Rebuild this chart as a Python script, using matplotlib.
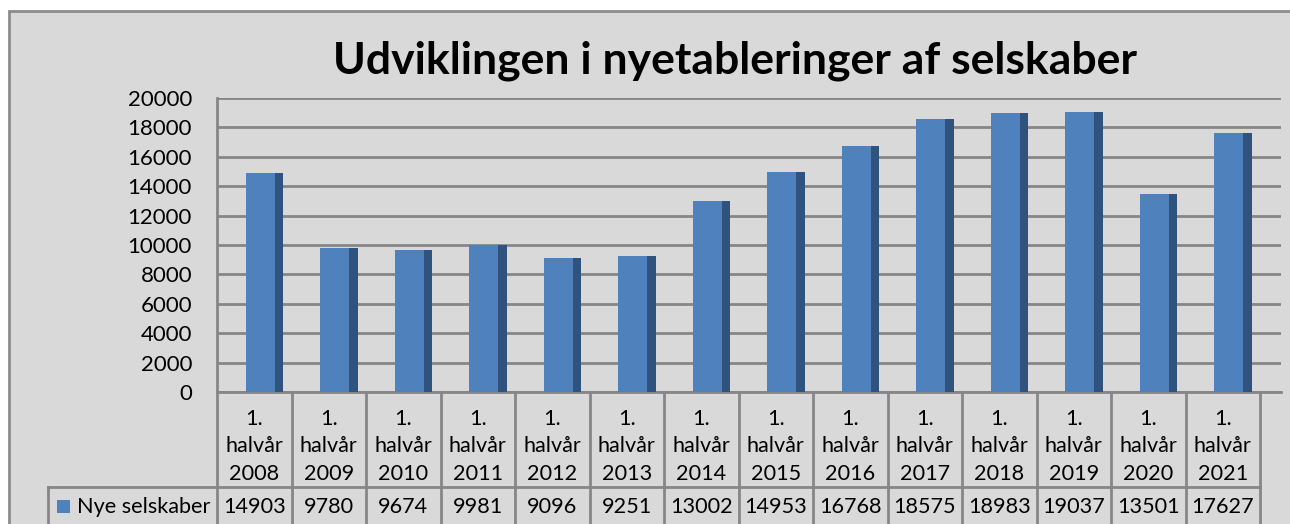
import matplotlib.pyplot as plt
from matplotlib.patches import Rectangle
import numpy as np

years = ['2008', '2009', '2010', '2011', '2012', '2013', '2014',
         '2015', '2016', '2017', '2018', '2019', '2020', '2021']
values = [14903, 9780, 9674, 9981, 9096, 9251, 13002,
          14953, 16768, 18575, 18983, 19037, 13501, 17627]
series_name = 'Nye selskaber'
title = 'Udviklingen i nyetableringer af selskaber'

W, H = 1290, 524
bg = '#d9d9d9'
grid_c = '#868686'
front_c = '#4f81bd'
side_c = '#30527f'

plt.rcParams['font.family'] = ['Lato', 'DejaVu Sans']

fig = plt.figure(figsize=(W / 100, H / 100), dpi=100, facecolor='white')


def box(x0, y0, x1, y1):
    # pixel box (top-left origin) -> figure fraction
    return [x0 / W, 1 - y1 / H, (x1 - x0) / W, (y1 - y0) / H]


# grey chart area with border
fig.patches.append(Rectangle((9 / W, -0.01), 1.0, 1 - 11 / H + 0.01,
                             transform=fig.transFigure, facecolor=bg,
                             edgecolor='#8c8c8c', lw=2, zorder=-10))

cat_w = 74.5
x = np.arange(len(years))
xlim = (-0.5, -0.5 + (1281 - 217) / cat_w)

ax = fig.add_axes(box(217, 98, 1281, 392))
ax.patch.set_visible(False)
ax.set_xlim(xlim)
ax.set_ylim(0, 20000)
ax.set_yticks(range(0, 20001, 2000))
ax.yaxis.grid(True, color=grid_c, lw=2)
ax.set_axisbelow(True)
ax.set_xticks([])
ax.tick_params(axis='y', length=0, pad=18, labelsize=16)
for s in ['top', 'right']:
    ax.spines[s].set_visible(False)
for s in ['left', 'bottom']:
    ax.spines[s].set_color(grid_c)
    ax.spines[s].set_linewidth(2)

ax.bar(x + 0.084, values, width=0.39, color=front_c, zorder=3)
ax.bar(x + 0.333, values, width=0.11, color=side_c, zorder=3)

fig.text(735 / W, 1 - 61 / H, title, ha='center', va='center',
         fontsize=32, fontweight='bold')

# data table below the plot
tax = fig.add_axes(box(217, 392, 1281, 524))
tax.set_xlim(xlim)
tax.set_ylim(524, 392)
tax.axis('off')
line_kw = dict(color=grid_c, lw=2, clip_on=False)
legend_x = -0.5 - (217 - 48) / cat_w
for k in range(len(years) + 1):
    tax.plot([k - 0.5, k - 0.5], [392, 530], **line_kw)
tax.plot([legend_x, len(years) - 0.5], [487, 487], **line_kw)
tax.plot([legend_x, legend_x], [487, 530], **line_kw)

fs = 15.6
for i, (yr, v) in enumerate(zip(years, values)):
    tax.text(i, 419, '1.', ha='center', va='center', fontsize=fs)
    tax.text(i, 446, 'halvår', ha='center', va='center', fontsize=fs)
    tax.text(i, 474, yr, ha='center', va='center', fontsize=fs)
    tax.text(i, 507, str(v), ha='center', va='center', fontsize=fs)

fig.patches.append(Rectangle((57 / W, 1 - 513 / H), 13 / W, 13 / H,
                             transform=fig.transFigure, facecolor=front_c,
                             edgecolor='none', zorder=3))
fig.text(77 / W, 1 - 507 / H, series_name, ha='left', va='center', fontsize=fs)

fig.savefig('out.png', dpi=100, facecolor='white')
